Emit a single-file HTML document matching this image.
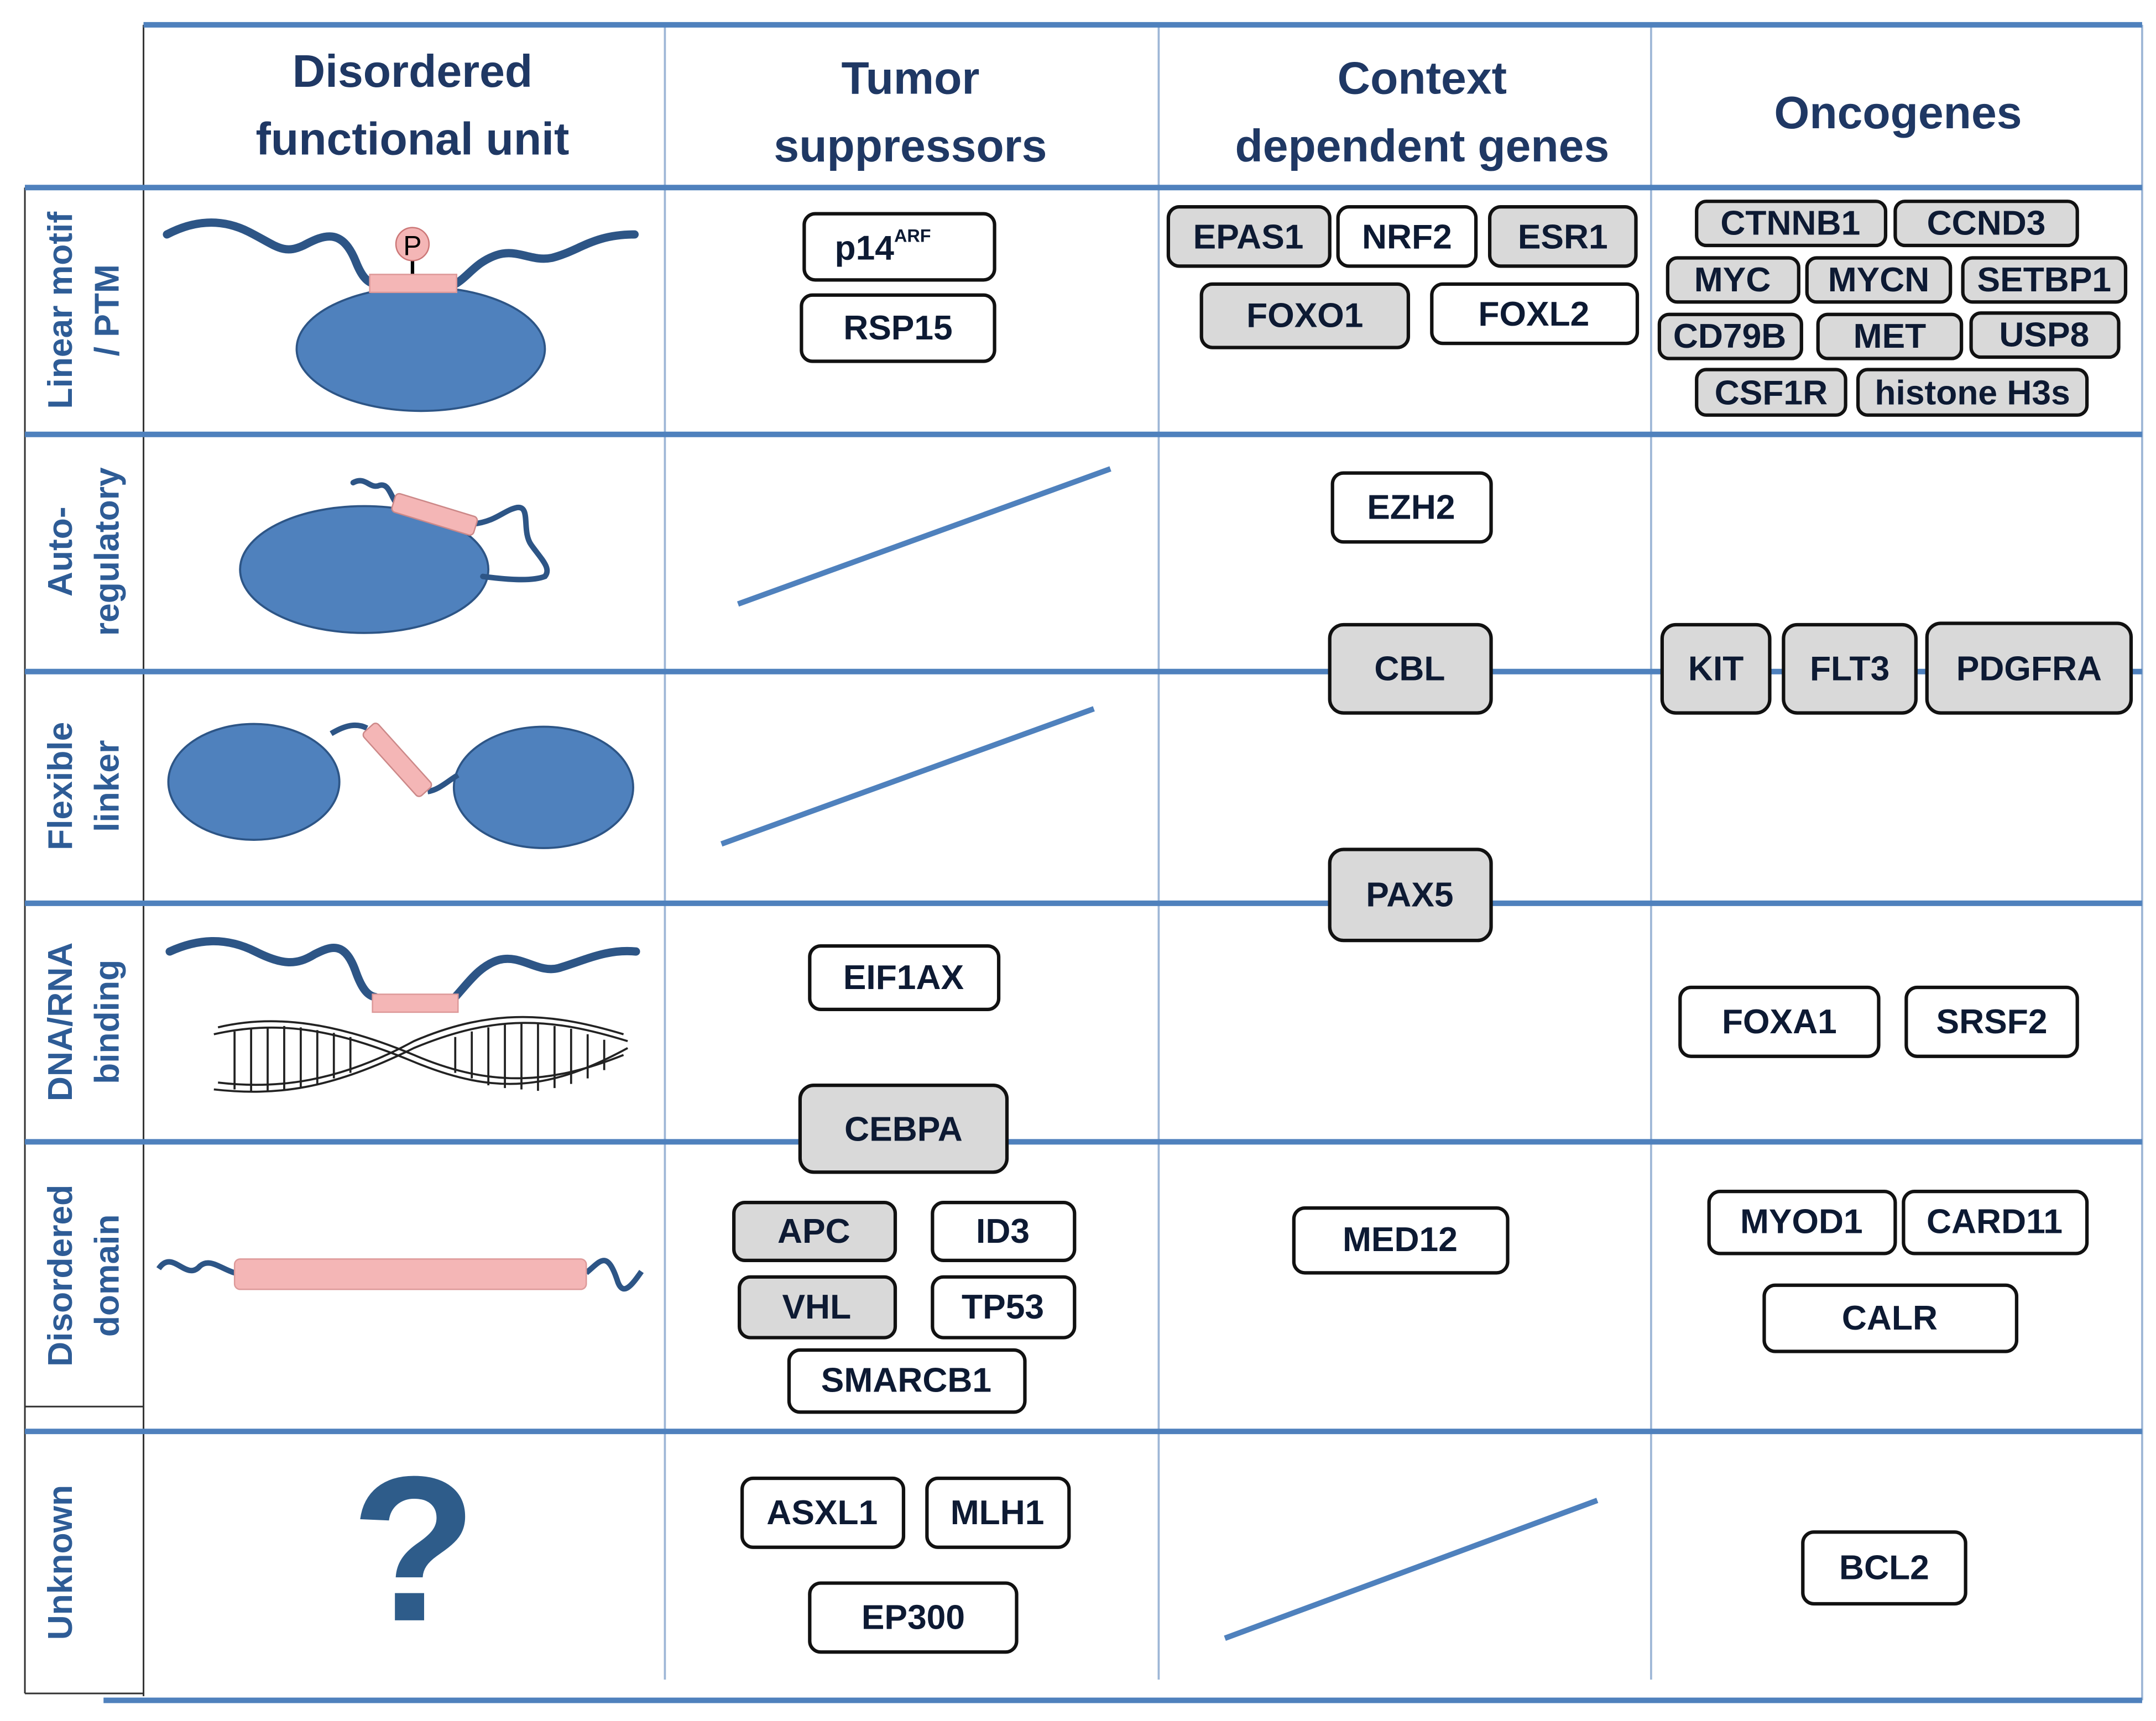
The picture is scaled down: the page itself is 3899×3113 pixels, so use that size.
<!DOCTYPE html>
<html><head><meta charset="utf-8"><style>
html,body{margin:0;padding:0;background:#fff;}
svg{display:block;}
text{font-family:"Liberation Sans",sans-serif;font-weight:bold;}
.h{fill:#1f3864;font-size:33px;text-anchor:middle;}
.r{fill:#2e5c96;font-size:25px;text-anchor:middle;}
.g{fill:#0d1a33;font-size:25px;text-anchor:middle;dominant-baseline:central;font-family:"Liberation Sans Narrow","Liberation Sans",sans-serif;}
.bg{fill:#d9d9d9;stroke:#111;stroke-width:2.5;}
.bw{fill:#fff;stroke:#111;stroke-width:2.5;}
.tl{stroke:#4f81bd;stroke-width:4;}
.vl{stroke:#9db6d6;stroke-width:1.5;}
.sl{stroke:#4f81bd;stroke-width:4;}
.w{fill:none;stroke:#2d5586;stroke-width:6;stroke-linecap:round;}
</style></head><body>
<svg width="3899" height="3113" viewBox="0 0 1563 1248" xmlns="http://www.w3.org/2000/svg">
<rect width="1563" height="1248" fill="#fff"/>
<line x1="104" y1="18" x2="104" y2="1230" stroke="#333" stroke-width="1.2"/>
<line x1="482" y1="18" x2="482" y2="1218" class="vl"/>
<line x1="840" y1="18" x2="840" y2="1218" class="vl"/>
<line x1="1197" y1="18" x2="1197" y2="1218" class="vl"/>
<line x1="1553" y1="18" x2="1553" y2="1233" class="vl"/>
<line x1="18" y1="136" x2="18" y2="1228" stroke="#333" stroke-width="1.2"/>
<line x1="104" y1="18" x2="1553" y2="18" class="tl"/>
<line x1="18" y1="136" x2="1553" y2="136" class="tl"/>
<line x1="18" y1="315" x2="1553" y2="315" class="tl"/>
<line x1="18" y1="487" x2="1553" y2="487" class="tl"/>
<line x1="18" y1="655" x2="1553" y2="655" class="tl"/>
<line x1="18" y1="828" x2="1553" y2="828" class="tl"/>
<line x1="18" y1="1038" x2="1553" y2="1038" class="tl"/>
<line x1="75" y1="1233" x2="1553" y2="1233" class="tl"/>
<line x1="18" y1="1228" x2="104" y2="1228" stroke="#333" stroke-width="1.2"/>
<line x1="18" y1="1020" x2="104" y2="1020" stroke="#333" stroke-width="1.2"/>
<text class="h" x="299" y="63">Disordered</text>
<text class="h" x="299" y="112">functional unit</text>
<text class="h" x="660" y="68">Tumor</text>
<text class="h" x="660" y="117">suppressors</text>
<text class="h" x="1031" y="68">Context</text>
<text class="h" x="1031" y="117">dependent genes</text>
<text class="h" x="1376" y="93">Oncogenes</text>
<g transform="translate(52,225) rotate(-90)"><text class="r" x="0" y="0">Linear motif</text></g>
<g transform="translate(86,225) rotate(-90)"><text class="r" x="0" y="0">/ PTM</text></g>
<g transform="translate(52,400) rotate(-90)"><text class="r" x="0" y="0">Auto-</text></g>
<g transform="translate(86,400) rotate(-90)"><text class="r" x="0" y="0">regulatory</text></g>
<g transform="translate(52,570) rotate(-90)"><text class="r" x="0" y="0">Flexible</text></g>
<g transform="translate(86,570) rotate(-90)"><text class="r" x="0" y="0">linker</text></g>
<g transform="translate(52,741) rotate(-90)"><text class="r" x="0" y="0">DNA/RNA</text></g>
<g transform="translate(86,741) rotate(-90)"><text class="r" x="0" y="0">binding</text></g>
<g transform="translate(52,925) rotate(-90)"><text class="r" x="0" y="0">Disordered</text></g>
<g transform="translate(86,925) rotate(-90)"><text class="r" x="0" y="0">domain</text></g>
<g transform="translate(52,1133) rotate(-90)"><text class="r" x="0" y="0">Unknown</text></g>
<ellipse cx="305" cy="253" rx="90" ry="45" fill="#4f81bd" stroke="#2d5586" stroke-width="1.5"/>
<path class="w" d="M121,170 C140,160 160,158 180,168 C200,178 205,185 220,178 C235,170 248,165 258,190 C262,200 266,205 272,206"/>
<path class="w" d="M330,206 C340,200 345,190 360,185 C375,180 385,190 400,187 C420,182 430,170 460,170"/>
<line x1="299" y1="188" x2="299" y2="200" stroke="#000" stroke-width="2.5"/>
<rect x="268" y="199" width="63" height="13" fill="#f4b6b6" stroke="#d99" stroke-width="1"/>
<circle cx="299" cy="177" r="12" fill="#f4b6b6" stroke="#c77" stroke-width="1"/>
<text x="299" y="185" text-anchor="middle" style="font-weight:normal;font-size:20px" fill="#000">P</text>
<ellipse cx="264" cy="413" rx="90" ry="46" fill="#4f81bd" stroke="#2d5586" stroke-width="1.5"/>
<path d="M256,350 C265,345 268,355 275,352 C282,350 283,360 288,366 M343,380 C360,378 365,370 375,368 C385,367 378,385 385,395 C392,405 400,412 395,418 C385,422 365,420 350,418" fill="none" stroke="#2d5586" stroke-width="4" stroke-linecap="round"/>
<g transform="translate(315,373) rotate(17)"><rect x="-31" y="-7" width="62" height="14" rx="3" fill="#f4b6b6" stroke="#c88" stroke-width="1"/></g>
<line x1="535" y1="438" x2="805" y2="340" class="sl"/>
<ellipse cx="184" cy="567" rx="62" ry="42" fill="#4f81bd" stroke="#2d5586" stroke-width="1.5"/>
<ellipse cx="394" cy="571" rx="65" ry="44" fill="#4f81bd" stroke="#2d5586" stroke-width="1.5"/>
<path d="M240,532 C250,526 258,524 266,528 M310,574 C318,573 325,566 332,562" fill="none" stroke="#2d5586" stroke-width="4"/>
<g transform="translate(288,551) rotate(48)"><rect x="-31" y="-7" width="62" height="14" rx="3" fill="#f4b6b6" stroke="#c88" stroke-width="1"/></g>
<line x1="523" y1="612" x2="793" y2="514" class="sl"/>
<path class="w" d="M123,690 C145,680 165,680 185,690 C205,700 215,700 228,692 C240,686 250,682 258,705 C262,716 266,722 272,723"/>
<path class="w" d="M330,723 C340,712 348,700 362,696 C378,692 390,706 405,702 C425,696 440,688 461,690"/>
<rect x="270" y="721" width="62" height="13" fill="#f4b6b6" stroke="#d99" stroke-width="1"/>
<g fill="none" stroke="#222" stroke-width="1.5">
<path d="M155,750 C200,740 240,745 300,770 C360,795 400,790 455,760"/>
<path d="M155,790 C200,795 240,790 300,760 C360,735 400,738 455,755"/>
<path d="M158,745 C200,735 245,742 300,765 C358,790 402,785 452,765"/>
<path d="M158,785 C200,790 245,785 300,755 C358,730 402,735 452,750"/>
<path d="M170,748 V790 M182,746 V792 M194,745 V792 M206,744 V791 M218,745 V789 M230,747 V786 M242,749 V782 M254,752 V778 M330,752 V778 M342,748 V782 M354,745 V787 M366,743 V789 M378,742 V790 M390,742 V791 M402,744 V789 M414,746 V786 M426,750 V782 M438,754 V776"/>
</g>
<path d="M115,920 C125,905 135,930 145,918 C152,912 160,920 170,923 M425,923 C435,915 440,905 448,930 C452,940 458,932 465,922" fill="none" stroke="#2d5586" stroke-width="4"/>
<rect x="170" y="913" width="255" height="22" rx="4" fill="#f4b6b6" stroke="#d99" stroke-width="1"/>
<text x="300" y="1175" text-anchor="middle" style="font-size:150px" fill="#2e5c8a">?</text>
<line x1="888" y1="1188" x2="1158" y2="1088" class="sl"/>
<rect class="bw" x="583" y="155" width="138" height="48" rx="8"/><text class="g" x="640" y="180">p14<tspan dy="-9" font-size="13">ARF</tspan></text>
<rect class="bw" x="581" y="214" width="140" height="48" rx="8"/><text class="g" x="651" y="238">RSP15</text>
<rect class="bg" x="847" y="150" width="117" height="43" rx="8"/><text class="g" x="905" y="172">EPAS1</text>
<rect class="bw" x="970" y="150" width="100" height="43" rx="8"/><text class="g" x="1020" y="172">NRF2</text>
<rect class="bg" x="1080" y="150" width="106" height="43" rx="8"/><text class="g" x="1133" y="172">ESR1</text>
<rect class="bg" x="871" y="206" width="150" height="46" rx="8"/><text class="g" x="946" y="229">FOXO1</text>
<rect class="bw" x="1038" y="206" width="149" height="43" rx="8"/><text class="g" x="1112" y="228">FOXL2</text>
<rect class="bg" x="1230" y="146" width="137" height="32" rx="7"/><text class="g" x="1298" y="162" font-size="22">CTNNB1</text>
<rect class="bg" x="1374" y="146" width="132" height="32" rx="7"/><text class="g" x="1440" y="162" font-size="22">CCND3</text>
<rect class="bg" x="1209" y="187" width="95" height="32" rx="7"/><text class="g" x="1256" y="203" font-size="22">MYC</text>
<rect class="bg" x="1310" y="187" width="104" height="32" rx="7"/><text class="g" x="1362" y="203" font-size="22">MYCN</text>
<rect class="bg" x="1423" y="187" width="118" height="32" rx="7"/><text class="g" x="1482" y="203" font-size="22">SETBP1</text>
<rect class="bg" x="1203" y="228" width="103" height="32" rx="7"/><text class="g" x="1254" y="244" font-size="22">CD79B</text>
<rect class="bg" x="1318" y="228" width="104" height="32" rx="7"/><text class="g" x="1370" y="244" font-size="22">MET</text>
<rect class="bg" x="1429" y="227" width="107" height="32" rx="7"/><text class="g" x="1482" y="243" font-size="22">USP8</text>
<rect class="bg" x="1230" y="268" width="108" height="33" rx="7"/><text class="g" x="1284" y="285" font-size="22">CSF1R</text>
<rect class="bg" x="1347" y="268" width="166" height="33" rx="7"/><text class="g" x="1430" y="285" font-size="22">histone H3s</text>
<rect class="bw" x="966" y="343" width="115" height="50" rx="8"/><text class="g" x="1023" y="368">EZH2</text>
<rect class="bg" x="964" y="453" width="117" height="64" rx="10"/><text class="g" x="1022" y="485">CBL</text>
<rect class="bg" x="1205" y="453" width="78" height="64" rx="10"/><text class="g" x="1244" y="485">KIT</text>
<rect class="bg" x="1293" y="453" width="96" height="64" rx="10"/><text class="g" x="1341" y="485">FLT3</text>
<rect class="bg" x="1397" y="452" width="148" height="65" rx="10"/><text class="g" x="1471" y="485">PDGFRA</text>
<rect class="bg" x="964" y="616" width="117" height="66" rx="10"/><text class="g" x="1022" y="649">PAX5</text>
<rect class="bw" x="587" y="686" width="137" height="46" rx="8"/><text class="g" x="655" y="709">EIF1AX</text>
<rect class="bg" x="580" y="787" width="150" height="63" rx="10"/><text class="g" x="655" y="819">CEBPA</text>
<rect class="bw" x="1218" y="716" width="144" height="50" rx="8"/><text class="g" x="1290" y="741">FOXA1</text>
<rect class="bw" x="1382" y="716" width="124" height="50" rx="8"/><text class="g" x="1444" y="741">SRSF2</text>
<rect class="bg" x="532" y="872" width="117" height="42" rx="8"/><text class="g" x="590" y="893">APC</text>
<rect class="bw" x="676" y="872" width="103" height="42" rx="8"/><text class="g" x="727" y="893">ID3</text>
<rect class="bg" x="536" y="926" width="113" height="44" rx="8"/><text class="g" x="592" y="948">VHL</text>
<rect class="bw" x="676" y="926" width="103" height="44" rx="8"/><text class="g" x="727" y="948">TP53</text>
<rect class="bw" x="572" y="979" width="171" height="45" rx="8"/><text class="g" x="657" y="1001">SMARCB1</text>
<rect class="bw" x="938" y="876" width="155" height="47" rx="8"/><text class="g" x="1015" y="899">MED12</text>
<rect class="bw" x="1239" y="864" width="135" height="45" rx="8"/><text class="g" x="1306" y="886">MYOD1</text>
<rect class="bw" x="1380" y="864" width="133" height="45" rx="8"/><text class="g" x="1446" y="886">CARD11</text>
<rect class="bw" x="1279" y="932" width="183" height="48" rx="8"/><text class="g" x="1370" y="956">CALR</text>
<rect class="bw" x="538" y="1072" width="117" height="50" rx="8"/><text class="g" x="596" y="1097">ASXL1</text>
<rect class="bw" x="672" y="1072" width="103" height="50" rx="8"/><text class="g" x="723" y="1097">MLH1</text>
<rect class="bw" x="587" y="1148" width="150" height="50" rx="8"/><text class="g" x="662" y="1173">EP300</text>
<rect class="bw" x="1307" y="1111" width="118" height="52" rx="8"/><text class="g" x="1366" y="1137">BCL2</text>
</svg>
</body></html>
